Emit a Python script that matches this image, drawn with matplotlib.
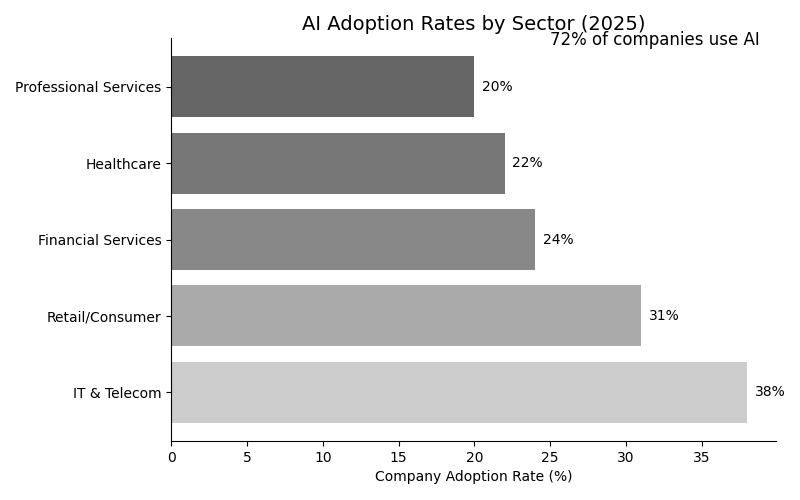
import matplotlib
matplotlib.use("Agg")
import matplotlib.pyplot as plt

# Sectors and adoption rates (bottom to top)
sectors = ["IT & Telecom", "Retail/Consumer", "Financial Services", "Healthcare", "Professional Services"]
rates = [38, 31, 24, 22, 20]
colors = ["#cccccc", "#aaaaaa", "#888888", "#777777", "#666666"]

fig, ax = plt.subplots(figsize=(8, 5), dpi=100)
fig.subplots_adjust(left=0.214, right=0.97, top=0.924, bottom=0.118)

bars = ax.barh(sectors, rates, color=colors, height=0.8)
for bar, r in zip(bars, rates):
    ax.text(bar.get_width() + 0.5, bar.get_y() + bar.get_height() / 2, f"{r}%",
            va="center", ha="left", fontsize=10)

ax.set_xlim(0, 39.9)
ax.set_xlabel("Company Adoption Rate (%)")
ax.set_title("AI Adoption Rates by Sector (2025)", fontsize=14)
ax.spines["top"].set_visible(False)
ax.spines["right"].set_visible(False)

fig.text(0.95, 0.92, "72% of companies use AI", ha="right", va="center", fontsize=12)

fig.savefig("out.png")
